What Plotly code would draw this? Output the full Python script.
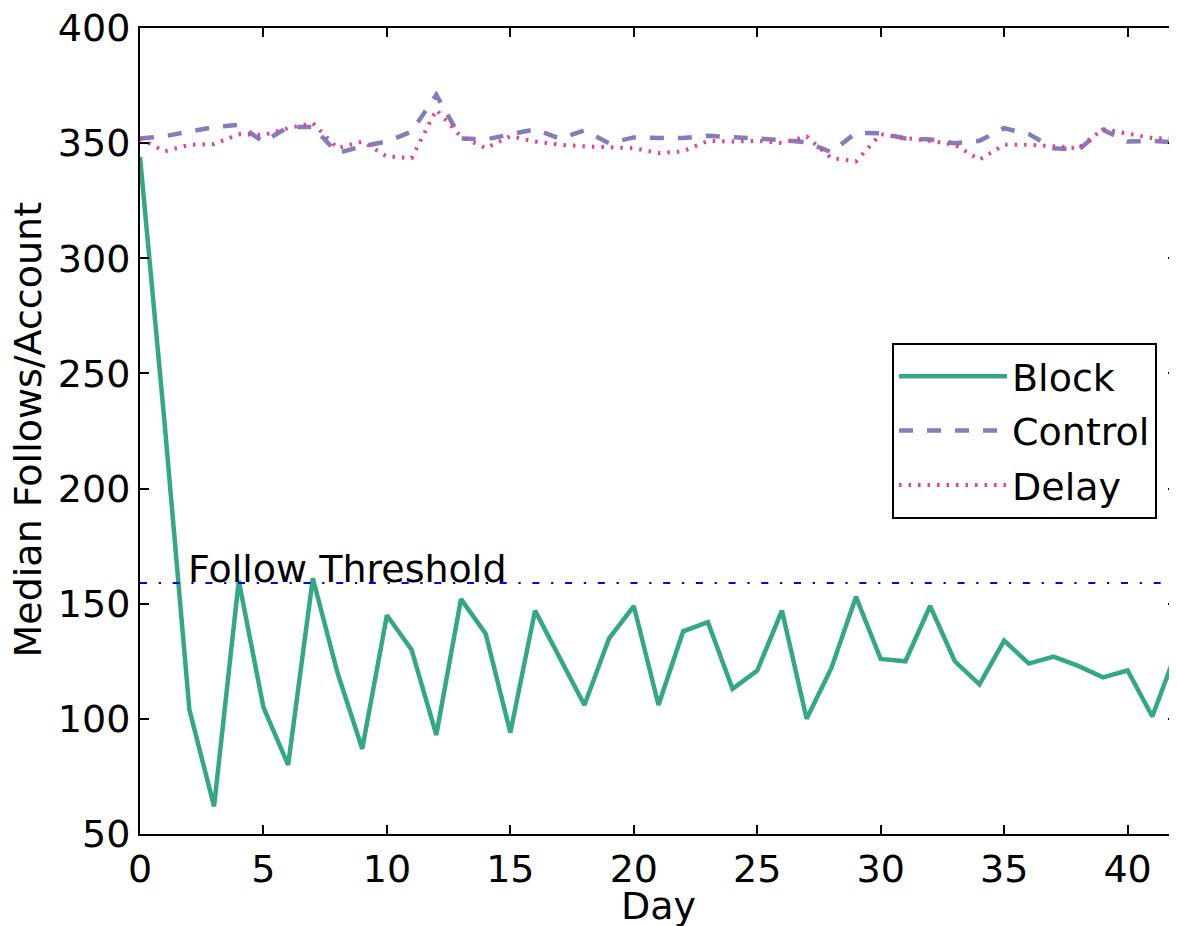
import plotly.graph_objects as go

days = list(range(43))
block = [344, 228, 104, 62, 160, 105, 80, 161, 120, 87, 145, 130, 93, 152, 137, 94, 147, 127, 106, 135,
         149, 106, 138, 142, 113, 121, 147, 100, 122, 153, 126, 125, 149, 125, 115, 134, 124, 127, 123, 118,
         121, 101, 130]
control = [352, 353, 355, 357, 358, 350.5, 357, 357, 345.7, 348.6, 350.7, 355, 371, 352, 351.6, 354, 356, 352, 355.5, 350,
           352.5, 352.2, 352.2, 353.2, 352.4, 352, 351.3, 350.4, 346.1, 354.5, 354.3, 352, 351.6, 350, 351, 356.5, 353.9, 347.8, 347.1, 355.8,
           350.7, 351, 350.3]
delay = [352, 346.4, 349.3, 349.6, 353.9, 353.5, 356.5, 358.7, 347.8, 350.7, 344.2, 343.5, 364.5, 352.9, 347.8, 353, 350.7, 349.3, 348.6, 348.3,
         347.8, 345.7, 346.4, 351, 350.7, 351, 350, 352.9, 343.5, 342.1, 353.9, 352.2, 351, 349.3, 342.8, 349.3, 349.3, 348.6, 347.8, 356.1,
         354.3, 352.2, 352]
threshold = 159
x_ticks = [0, 5, 10, 15, 20, 25, 30, 35, 40]
y_ticks = [50, 100, 150, 200, 250, 300, 350, 400]

FONT = "DejaVu Sans"
FS = 38

fig = go.Figure()
fig.add_trace(go.Scatter(x=days, y=block, mode="lines", name="Block", legendgroup="a",
                         line=dict(color="#32a885", width=4.5)))
fig.add_trace(go.Scatter(x=days, y=control, mode="lines", name="Control", legendgroup="b",
                         line=dict(color="#837ebb", width=4.5, dash="14px,14px")))
fig.add_trace(go.Scatter(x=days, y=delay, mode="lines", name="Delay", legendgroup="c",
                         line=dict(color="#e93e96", width=4, dash="2.5px,7px")))
fig.add_trace(go.Scatter(x=[0, 42], y=[threshold, threshold], mode="lines", showlegend=False,
                         line=dict(color="#0000ff", width=2, dash="7px,11.7px,2.3px,11.7px")))

fig.add_annotation(x=2, y=threshold, xref="x", yref="y", text="Follow Threshold",
                   showarrow=False, xanchor="left", yanchor="bottom", yshift=-10, xshift=-3,
                   font=dict(family=FONT, size=FS, color="black"))

# axis titles
fig.add_annotation(x=0.5, y=-0.0893, xref="paper", yref="paper", text="Day",
                   showarrow=False, xanchor="center", yanchor="middle",
                   font=dict(family=FONT, size=FS, color="black"))
fig.add_annotation(x=-0.108, y=0.5019, xref="paper", yref="paper", text="Median Follows/Account",
                   showarrow=False, xanchor="center", yanchor="middle", textangle=-90,
                   font=dict(family=FONT, size=FS, color="black"))

axis_common = dict(showgrid=False, zeroline=False, showline=True, linecolor="black", linewidth=2,
                   mirror="allticks", ticks="inside", ticklen=9, tickwidth=1.5, tickcolor="black",
                   automargin=False, ticklabeloverflow="allow",
                   tickfont=dict(family=FONT, size=FS, color="black"))

fig.update_xaxes(range=[0, 42], tickvals=x_ticks, ticktext=[str(t) for t in x_ticks], **axis_common)
fig.update_yaxes(range=[50, 400], tickvals=y_ticks, ticktext=[str(t) for t in y_ticks], **axis_common)

# page body has an 8px margin: size the figure so it fills the 1177x926 window exactly
fig.update_layout(
    width=1169, height=918,
    margin=dict(l=132, r=0, t=20, b=92, autoexpand=False),
    paper_bgcolor="white", plot_bgcolor="white",
    font=dict(family=FONT, size=FS, color="black"),
    legend=dict(x=0.7252, y=0.6092, xanchor="left", yanchor="top",
                bgcolor="white", bordercolor="black", borderwidth=2,
                font=dict(family=FONT, size=FS, color="black"),
                itemwidth=108, tracegroupgap=2),
)

fig.write_html("out.html")
